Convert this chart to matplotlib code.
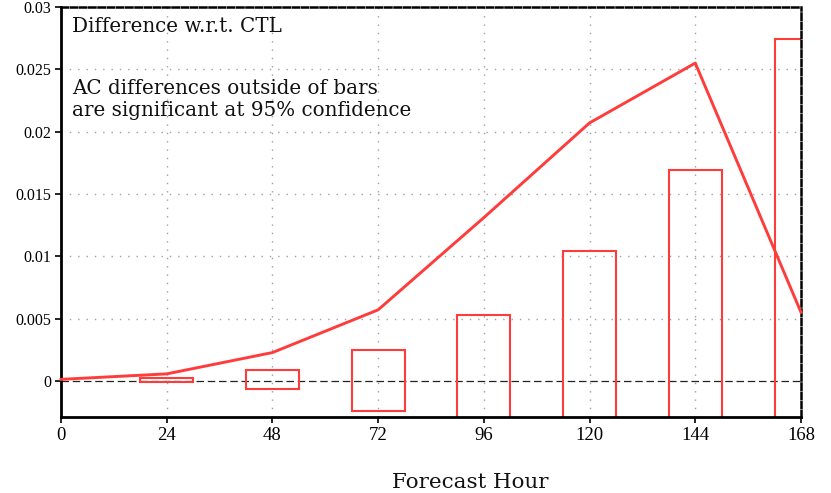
import matplotlib
matplotlib.use("Agg")
import matplotlib.pyplot as plt
import numpy as np

hours = [0, 24, 48, 72, 96, 120, 144, 168]
ac_diff = [0.00012, 0.00056, 0.00227, 0.0057, 0.0131, 0.0207, 0.0255, 0.0055]

bar_hours = [24, 48, 72, 96, 120, 144, 168]
bar_low = [-0.0001, -0.00067, -0.0024, -0.0053, -0.0105, -0.017, -0.0275]
bar_high = [0.00024, 0.00088, 0.0025, 0.0053, 0.01046, 0.0169, 0.02745]
bar_width = 12

xticks = [0, 24, 48, 72, 96, 120, 144, 168]
yticks = [0, 0.005, 0.01, 0.015, 0.02, 0.025, 0.03]
ytick_labels = ["0", "0.005", "0.01", "0.015", "0.02", "0.025", "0.03"]

red = "#ff3c3c"
W, H = 831, 493
fig = plt.figure(figsize=(W / 100, H / 100), dpi=100)
ax = fig.add_axes([61 / W, 1 - 417 / H, (801 - 61) / W, (417 - 7) / H])

ax.set_xlim(0, 168)
ax.set_ylim(-0.0029, 0.03)

for xv in xticks[1:-1]:
    ax.axvline(xv, color="#a0a0a0", lw=1.0, ls=(0, (1, 5)), zorder=0)
for yv in yticks[1:]:
    ax.axhline(yv, color="#a0a0a0", lw=1.0, ls=(0, (1, 5)), zorder=0)

ax.axhline(0, color="#222222", lw=0.9, ls=(0, (6, 3)), zorder=1)

lo = np.array(bar_low)
hi = np.array(bar_high)
ax.bar(bar_hours, hi - lo, bottom=lo, width=bar_width, facecolor="none",
       edgecolor=red, linewidth=1.5, zorder=2)

ax.plot(hours, ac_diff, color=red, lw=2.1, zorder=3, clip_on=False)

ax.set_xticks(xticks)
ax.set_xticklabels([str(x) for x in xticks])
ax.set_yticks(yticks)
ax.set_yticklabels(ytick_labels)
ax.tick_params(direction="out", length=4, width=1.2, pad=3)
for lab in ax.get_xticklabels():
    lab.set_family("Liberation Serif")
    lab.set_fontsize(13.5)
for lab in ax.get_yticklabels():
    lab.set_family("Liberation Serif")
    lab.set_fontsize(11.5)

for s in ["left", "bottom"]:
    ax.spines[s].set_linewidth(2.0)
for s in ["top", "right"]:
    ax.spines[s].set_linewidth(1.8)
    ax.spines[s].set_linestyle((0, (2.5, 1.2)))

tf = dict(family="DejaVu Serif", fontsize=14.3, color="#111111")
fig.text(72 / W, 1 - 27 / H, "Difference w.r.t. CTL", va="center", ha="left", **tf)
fig.text(72 / W, 1 - 88 / H, "AC differences outside of bars", va="center", ha="left", **tf)
fig.text(72 / W, 1 - 110 / H, "are significant at 95% confidence", va="center", ha="left", **tf)
fig.text(470 / W, 1 - 482 / H, "Forecast Hour", va="center", ha="center",
         family="DejaVu Serif", fontsize=15.4, color="#111111")

fig.savefig("out.png", dpi=100)
